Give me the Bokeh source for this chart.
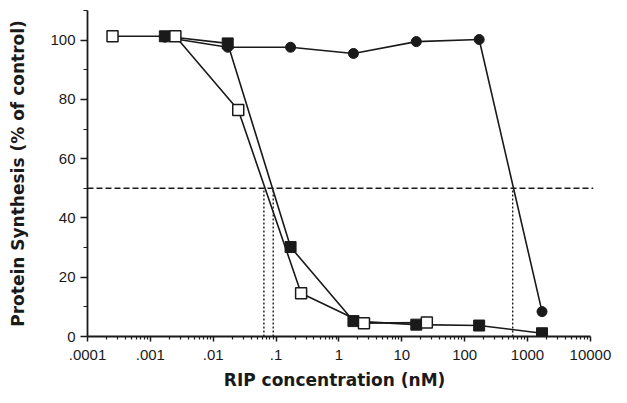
from bokeh.plotting import figure
from bokeh.models import Range1d, FixedTicker, Span
from bokeh.embed import file_html
from bokeh.resources import INLINE

# RIP concentration (nM) and protein synthesis (% of control)
conc_circle = [0.0017, 0.017, 0.17, 1.7, 17, 170, 1700]
synth_circle = [101.0, 97.6, 97.6, 95.5, 99.5, 100.2, 8.4]

conc_fsquare = [0.0017, 0.017, 0.17, 1.7, 17, 170, 1700]
synth_fsquare = [101.3, 98.9, 30.2, 5.2, 4.0, 3.7, 1.1]

conc_osquare = [0.00025, 0.0025, 0.025, 0.25, 2.5, 25]
synth_osquare = [101.3, 101.3, 76.4, 14.6, 4.5, 4.7]

ic50_conc = [0.064, 0.09, 580]
half_level = 50

x_ticks = [1e-4, 1e-3, 1e-2, 1e-1, 1, 10, 100, 1000, 10000]
x_tick_labels = [".0001", ".001", ".01", ".1", "1", "10", "100", "1000", "10000"]
x_minor = [m * 10.0 ** e for e in range(-4, 4) for m in range(2, 10)]
y_ticks = [0, 20, 40, 60, 80, 100]
y_minor = [10, 30, 50, 70, 90, 110]

INK = "#1a1a1a"
TICK_FONT = "Liberation Sans"
TITLE_FONT = "DejaVu Sans"

p = figure(width=613, height=393, x_axis_type="log",
           x_range=Range1d(1e-4, 1.12e4), y_range=Range1d(0, 110),
           output_backend="svg", toolbar_location=None,
           min_border_left=87, min_border_right=20,
           min_border_top=10, min_border_bottom=57)
p.outline_line_color = None
p.grid.visible = False
p.background_fill_color = "white"

# axes
p.xaxis.bounds = (1e-4, 1e4)
p.xaxis.ticker = FixedTicker(ticks=x_ticks, minor_ticks=x_minor)
p.xaxis.major_label_overrides = dict(zip(x_ticks, x_tick_labels))
p.yaxis.bounds = (0, 110)
p.yaxis.ticker = FixedTicker(ticks=y_ticks, minor_ticks=y_minor)

for ax in (p.xaxis[0], p.yaxis[0]):
    ax.axis_line_color = INK
    ax.axis_line_width = 1.8
    ax.major_tick_line_color = INK
    ax.minor_tick_line_color = INK
    ax.major_tick_line_width = 1.5
    ax.minor_tick_line_width = 1.2
    ax.major_tick_in = 0
    ax.minor_tick_in = 0
    ax.major_label_text_font = TICK_FONT
    ax.major_label_text_font_size = "15px"
    ax.major_label_text_color = INK
    ax.axis_label_text_font = TITLE_FONT
    ax.axis_label_text_font_style = "bold"
    ax.axis_label_text_font_size = "17px"
    ax.axis_label_text_color = INK

p.xaxis.major_tick_out = 5
p.xaxis.minor_tick_out = 3
p.xaxis.major_label_standoff = 8
p.xaxis.axis_label = "RIP  concentration  (nM)"
p.xaxis.axis_label_standoff = 7

p.yaxis.major_tick_out = 7
p.yaxis.minor_tick_out = 4
p.yaxis.major_label_standoff = 5
p.yaxis.axis_label = "Protein Synthesis (% of control)"
p.yaxis.axis_label_standoff = 19

# reference lines
p.add_layout(Span(location=half_level, dimension="width", line_color=INK,
                  line_width=1.5, line_dash="6 3"))
p.segment(x0=ic50_conc, y0=[0] * len(ic50_conc), x1=ic50_conc,
          y1=[half_level] * len(ic50_conc), line_color=INK, line_width=1.4,
          line_dash="2 2")

# series
p.line(conc_circle, synth_circle, line_color=INK, line_width=1.6)
p.line(conc_fsquare, synth_fsquare, line_color=INK, line_width=1.6)
p.line(conc_osquare, synth_osquare, line_color=INK, line_width=1.6)

p.scatter(conc_circle, synth_circle, marker="circle", size=10,
          fill_color=INK, line_color=INK)
p.scatter(conc_fsquare, synth_fsquare, marker="square", size=11,
          fill_color=INK, line_color=INK)
p.scatter(conc_osquare, synth_osquare, marker="square", size=11,
          fill_color="white", line_color=INK, line_width=1.5)

open("out.html", "w").write(file_html(p, INLINE))
